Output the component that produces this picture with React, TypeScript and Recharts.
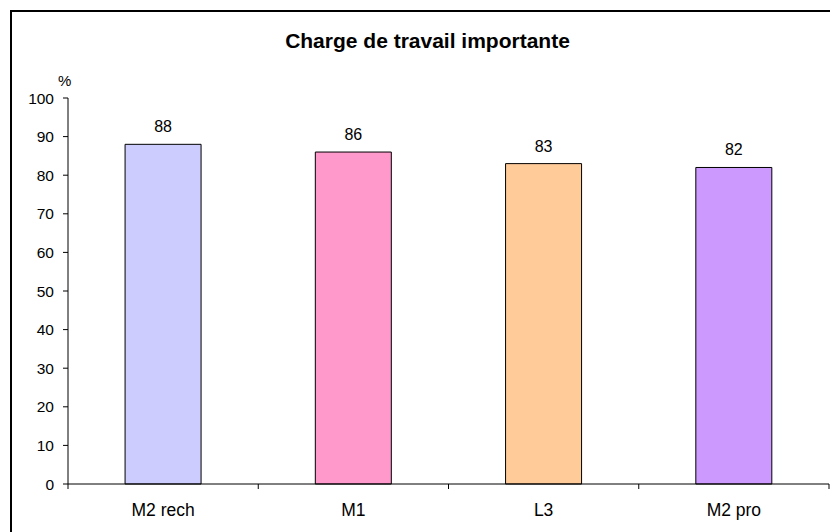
import { BarChart, Bar, XAxis, YAxis, Cell, LabelList } from "recharts";

const categories = ["M2 rech", "M1", "L3", "M2 pro"];
const values = [88, 86, 83, 82];
const barColors = ["#CCCCFF", "#FF99CC", "#FFCC99", "#CC99FF"];
const yTicks = [0, 10, 20, 30, 40, 50, 60, 70, 80, 90, 100];

const FONT = '"Liberation Sans", Arial, Helvetica, sans-serif';

const data = categories.map((name, i) => ({ name, value: values[i] }));

// category ticks sit on the band edges, labels in the middle
function CategoryTick(props: any) {
  const { x, y, payload } = props;
  const half = payload.offset ?? 0;
  const isLast = payload.index === categories.length - 1;
  return (
    <g>
      <line x1={x - half} y1={y} x2={x - half} y2={y + 5} stroke="#000" />
      {isLast && <line x1={x + half} y1={y} x2={x + half} y2={y + 5} stroke="#000" />}
      <text x={x} y={y + 32} textAnchor="middle" fontSize={17.5} fill="#000" fontFamily={FONT}>
        {payload.value}
      </text>
    </g>
  );
}

export default function App() {
  return (
    <div
      style={{
        position: "fixed",
        left: 0,
        top: 0,
        width: 830,
        height: 532,
        overflow: "hidden",
        background: "#fff",
        fontFamily: FONT,
      }}
    >
      <div
        style={{
          position: "absolute",
          left: 10,
          top: 10,
          width: 900,
          height: 600,
          border: "2px solid #000",
        }}
      />
      <div
        style={{
          position: "absolute",
          left: 0,
          top: 30,
          width: 855,
          textAlign: "center",
          fontSize: 21,
          lineHeight: 1,
          fontWeight: "bold",
          color: "#000",
        }}
      >
        Charge de travail importante
      </div>
      <div
        style={{
          position: "absolute",
          left: 58,
          top: 73,
          fontSize: 15,
          lineHeight: 1,
          color: "#000",
        }}
      >
        %
      </div>
      <div style={{ position: "absolute", left: 0, top: 0 }}>
        <BarChart
          width={830}
          height={532}
          data={data}
          margin={{ top: 98, right: 1, bottom: 18, left: 0 }}
          barCategoryGap="30%"
        >
          <XAxis
            dataKey="name"
            height={30}
            axisLine={{ stroke: "#000" }}
            tickLine={false}
            tickSize={0}
            tickMargin={0}
            interval={0}
            tick={<CategoryTick />}
          />
          <YAxis
            width={68}
            domain={[0, 100]}
            ticks={yTicks}
            interval={0}
            axisLine={{ stroke: "#000" }}
            tickLine={{ stroke: "#000" }}
            tickSize={5}
            tickMargin={9}
            tick={{ fill: "#000", fontSize: 15.5, fontFamily: FONT }}
          />
          <Bar dataKey="value" stroke="#000" strokeWidth={1} isAnimationActive={false}>
            {data.map((d, i) => (
              <Cell key={d.name} fill={barColors[i]} />
            ))}
            <LabelList
              dataKey="value"
              position="top"
              offset={12}
              fill="#000"
              fontSize={16}
              fontFamily={FONT}
            />
          </Bar>
        </BarChart>
      </div>
    </div>
  );
}
